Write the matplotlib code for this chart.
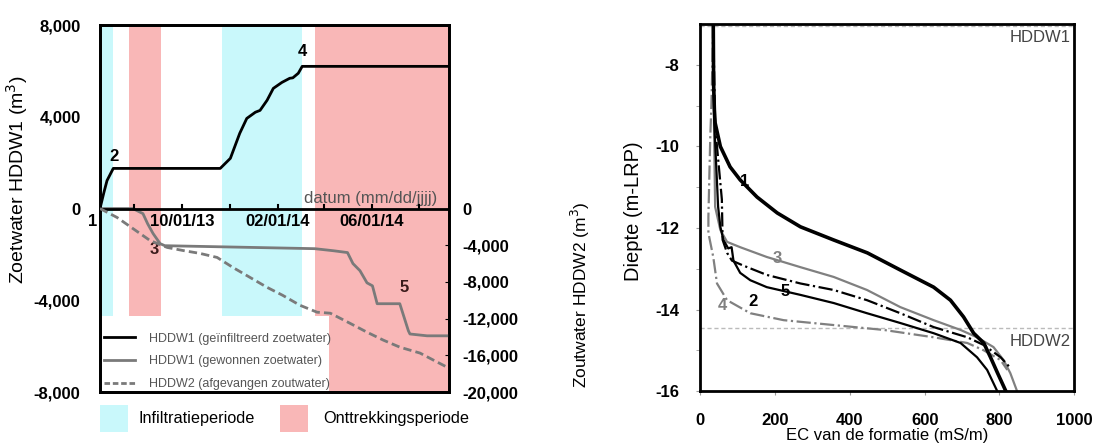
import numpy as np
import pandas as pd
import matplotlib
matplotlib.use("Agg")
import matplotlib.pyplot as plt
import matplotlib.dates as mdates
import matplotlib.patches as mpatches
from matplotlib.lines import Line2D

plt.rcParams['font.family'] = ['Liberation Sans', 'DejaVu Sans']

# ---- data: left panel (volumes over time) ----
infil_dates = ['2013-06-18', '2013-06-23', '2013-06-27', '2013-07-05', '2013-11-19', '2013-12-02',
               '2013-12-14', '2013-12-23', '2014-01-03', '2014-01-09', '2014-01-18', '2014-01-26',
               '2014-02-06', '2014-02-16', '2014-02-20', '2014-02-27', '2014-03-04', '2014-09-08']
infil_vol = [0, 700, 1220, 1750, 1750, 2190, 3280, 3930, 4200, 4280, 4720, 5240,
             5500, 5680, 5700, 5900, 6200, 6200]

recov_dates = ['2013-06-18', '2013-07-30', '2013-08-12', '2013-08-18', '2013-08-25', '2013-09-03',
               '2013-09-09', '2014-03-20', '2014-04-13', '2014-05-01', '2014-05-08', '2014-05-17',
               '2014-05-26', '2014-06-02', '2014-06-08', '2014-07-07', '2014-07-18', '2014-07-20',
               '2014-08-11', '2014-09-08']
recov_vol = [0, 0, -220, -660, -1090, -1530, -1620, -1750, -1840, -1920, -2400, -2710,
             -3240, -3370, -4150, -4150, -5330, -5470, -5550, -5550]

salt_dates = ['2013-06-18', '2013-07-10', '2013-07-30', '2013-08-21', '2013-09-12', '2013-10-02',
              '2013-10-24', '2013-11-15', '2013-12-05', '2013-12-27', '2014-01-18', '2014-02-07',
              '2014-03-01', '2014-03-23', '2014-04-09', '2014-05-04', '2014-05-26', '2014-06-16',
              '2014-07-07', '2014-08-02', '2014-08-19', '2014-09-08']
salt_vol = [0, -980, -2170, -3480, -4240, -4570, -4890, -5330, -6410, -7500, -8590, -9460,
            -10540, -11300, -11410, -12500, -13480, -14350, -15110, -15760, -16520, -17400]

infil_periods = [('2013-06-18', '2013-07-05'), ('2013-11-21', '2014-03-04')]
extr_periods = [('2013-07-25', '2013-09-04'), ('2014-03-20', '2014-09-08')]

# ---- data: right panel (EC profiles) ----
ec1 = [35, 36, 38, 40, 54, 80, 107, 152, 206, 268, 356, 447, 535, 624, 669, 704, 731, 758, 776, 795, 817]
d1 = [-7.0, -8.5, -9.1, -9.42, -10.0, -10.5, -10.82, -11.24, -11.63, -11.97, -12.29, -12.61,
      -13.03, -13.45, -13.77, -14.18, -14.58, -14.82, -15.17, -15.56, -16.0]
ec2 = [35, 38, 48, 54, 62, 75, 84, 89, 107, 134, 178, 268, 357, 446, 535, 624, 696, 740, 767, 794]
d2 = [-7.0, -9.5, -11.48, -11.97, -12.29, -12.5, -12.47, -12.8, -13.1, -13.28, -13.45, -13.64,
      -13.84, -14.09, -14.33, -14.58, -14.82, -15.17, -15.48, -16.0]
ec3 = [35, 37, 40, 54, 72, 107, 178, 268, 357, 446, 535, 624, 696, 740, 784, 811, 829, 847]
d3 = [-7.0, -9.5, -11.48, -12.05, -12.34, -12.47, -12.71, -12.96, -13.2, -13.52, -13.94,
      -14.26, -14.5, -14.68, -14.92, -15.24, -15.56, -16.0]
ec4 = [35, 30, 27, 22, 22, 35, 45, 72, 134, 223, 357, 491, 624, 714, 758, 803, 821]
d4 = [-7.0, -9.0, -9.77, -11.73, -12.12, -12.71, -13.36, -13.77, -14.09, -14.26, -14.38,
      -14.5, -14.68, -14.82, -15.0, -15.24, -15.48]
ec5 = [35, 40, 58, 60, 72, 85, 115, 178, 268, 357, 446, 535, 624, 714, 758, 803, 826]
d5 = [-7.0, -9.5, -11.3, -12.29, -12.61, -12.8, -12.92, -13.15, -13.36, -13.52, -13.77,
      -14.09, -14.43, -14.68, -14.87, -15.17, -15.4]

cyan = '#c9f8fb'
pink = '#f9b7b7'
grey = '#7a7a7a'

fig = plt.figure(figsize=(10.94, 4.48), dpi=100)

# ================= left panel =================
ax = fig.add_axes([0.0914, 0.125, 0.319, 0.819])
ax2 = ax.twinx()

x0 = mdates.date2num(pd.Timestamp('2013-06-18'))
x1 = mdates.date2num(pd.Timestamp('2014-09-08'))

for a, b in infil_periods:
    ax.axvspan(pd.Timestamp(a), pd.Timestamp(b), color=cyan, lw=0, zorder=0)
for a, b in extr_periods:
    ax.axvspan(pd.Timestamp(a), pd.Timestamp(b), color=pink, lw=0, zorder=0)
# white box behind the line legend
ax.add_patch(mpatches.Rectangle((0, 0), 0.656, 0.207, transform=ax.transAxes,
                                facecolor='white', edgecolor='none', zorder=1))

ax.plot(pd.to_datetime(infil_dates), infil_vol, color='black', lw=2, zorder=3)
ax.plot(pd.to_datetime(recov_dates), recov_vol, color=grey, lw=2, zorder=3)
ax2.plot(pd.to_datetime(salt_dates), salt_vol, color=grey, lw=2, ls=(0, (3, 1.5)), zorder=3)

ax.set_xlim(x0, x1)
ax.set_ylim(-8000, 8000)
ax2.set_ylim(-20000, 20000)
ax.set_yticks([-8000, -4000, 0, 4000, 8000])
ax.set_yticklabels(['-8,000', '-4,000', '0', '4,000', '8,000'], fontweight='bold', fontsize=12)
ax2.set_yticks([-20000, -16000, -12000, -8000, -4000, 0])
ax2.set_yticklabels(['-20,000', '-16,000', '-12,000', '-8,000', '-4,000', '0'], fontweight='bold', fontsize=12)
ax.tick_params(axis='y', length=0, pad=14)
ax2.tick_params(axis='y', length=3, direction='in', pad=10)

# date axis drawn at zero
ax.axhline(0, color='black', lw=2, zorder=4)
ax.set_xticks([])
tick_dates = ['2013-08-01', '2013-10-01', '2013-12-01', '2014-02-01', '2014-04-01', '2014-06-01', '2014-08-01']
for i, td in enumerate(tick_dates):
    xv = mdates.date2num(pd.Timestamp(td))
    ax.plot([xv, xv], [0, 150], color='black', lw=1.5, zorder=4)
    if i % 2 == 1:
        ax.text(xv, -230, pd.Timestamp(td).strftime('%m/%d/%y'), ha='center', va='top',
                fontsize=12, fontweight='bold', zorder=5)
ax.text(x0 - 3, -230, '1', ha='right', va='top', fontsize=12, fontweight='bold')
ax.text(x1 - 15, 120, 'datum (mm/dd/jjjj)', ha='right', va='bottom', fontsize=12, color='#555555')

ax.text(pd.Timestamp('2013-07-06'), 1950, '2', ha='center', va='bottom', fontsize=12, fontweight='bold')
ax.text(pd.Timestamp('2014-03-04'), 6500, '4', ha='center', va='bottom', fontsize=12, fontweight='bold')
ax.text(pd.Timestamp('2013-08-26'), -1450, '3', ha='center', va='top', fontsize=12, fontweight='bold', color='#3a1a1a')
ax.text(pd.Timestamp('2014-07-12'), -3750, '5', ha='center', va='bottom', fontsize=12, fontweight='bold', color='#3a1a1a')

ax.set_ylabel('Zoetwater HDDW1 (m$^3$)', fontsize=14)
ax.yaxis.set_label_coords(-0.20, 0.578)
ax2.set_ylabel('Zoutwater HDDW2 (m$^3$)', fontsize=12.5, rotation=90)
ax2.yaxis.set_label_coords(1.345, 0.264)

for s in ax.spines.values():
    s.set_linewidth(2)
for s in ax2.spines.values():
    s.set_linewidth(2)

handles = [Line2D([], [], color='black', lw=2),
           Line2D([], [], color=grey, lw=2),
           Line2D([], [], color=grey, lw=2, ls=(0, (2, 1)))]
labels = ['HDDW1 (ge\u00efnfiltreerd zoetwater)', 'HDDW1 (gewonnen zoetwater)', 'HDDW2 (afgevangen zoutwater)']
leg = ax2.legend(handles, labels, loc='lower left', bbox_to_anchor=(-0.01, -0.015),
                 fontsize=9, frameon=False, borderaxespad=0.2,
                 handlelength=2.5, labelspacing=0.85, handletextpad=1.1)
for t in leg.get_texts():
    t.set_color('#555555')

# period key under the panel
key_y = 16 / 448
key_h = 27 / 448
fig.add_artist(mpatches.Rectangle((100 / 1094, key_y), 28 / 1094, key_h, transform=fig.transFigure,
                                  facecolor=cyan, edgecolor='none'))
fig.add_artist(mpatches.Rectangle((280 / 1094, key_y), 28 / 1094, key_h, transform=fig.transFigure,
                                  facecolor=pink, edgecolor='none'))
fig.text(138 / 1094, key_y + key_h / 2, 'Infiltratieperiode', fontsize=11.7, va='center', ha='left')
fig.text(323 / 1094, key_y + key_h / 2, 'Onttrekkingsperiode', fontsize=11.7, va='center', ha='left')

# ================= right panel =================
bx = fig.add_axes([0.640, 0.127, 0.342, 0.819])
bx.axhline(-7.05, color='#bbbbbb', lw=1, ls=(0, (3, 2)))
bx.axhline(-14.45, color='#bbbbbb', lw=1, ls=(0, (3, 2)))
bx.text(990, -7.15, 'HDDW1', ha='right', va='top', fontsize=12, color='#444444')
bx.text(990, -14.6, 'HDDW2', ha='right', va='top', fontsize=12, color='#444444')

bx.plot(ec4, d4, color='#808080', lw=1.6, ls='-.')
bx.plot(ec3, d3, color='#808080', lw=1.6)
bx.plot(ec2, d2, color='black', lw=1.6)
bx.plot(ec5, d5, color='black', lw=1.6, ls='-.')
bx.plot(ec1, d1, color='black', lw=2.6)

bx.text(120, -10.85, '1', fontsize=12, fontweight='bold', ha='center', va='center')
bx.text(140, -13.8, '2', fontsize=12, fontweight='bold', ha='center', va='center')
bx.text(205, -12.75, '3', fontsize=12, fontweight='bold', ha='center', va='center', color='#808080')
bx.text(60, -13.9, '4', fontsize=12, fontweight='bold', ha='center', va='center', color='#808080')
bx.text(228, -13.55, '5', fontsize=12, fontweight='bold', ha='center', va='center')

bx.set_xlim(0, 1000)
bx.set_ylim(-16, -7)
bx.set_xticks([0, 200, 400, 600, 800, 1000])
bx.set_xticklabels(['0', '200', '400', '600', '800', '1000'], fontweight='bold', fontsize=12)
bx.tick_params(axis='x', length=3, direction='out', pad=12.5, color='#999999')
bx.set_yticks([-16, -14, -12, -10, -8])
bx.set_yticklabels(['-16', '-14', '-12', '-10', '-8'], fontweight='bold', fontsize=12)
bx.set_yticks([-15, -13, -11, -9], minor=True)
bx.tick_params(axis='y', which='both', length=3, direction='out', pad=12, color='#999999')
bx.set_xlabel('EC van de formatie (mS/m)', fontsize=12)
bx.xaxis.set_label_coords(0.5, -0.101)
bx.set_ylabel('Diepte (m-LRP)', fontsize=14.5)
bx.yaxis.set_label_coords(-0.152, 0.49)
for s in bx.spines.values():
    s.set_linewidth(2)

fig.savefig('out.png', dpi=100)
